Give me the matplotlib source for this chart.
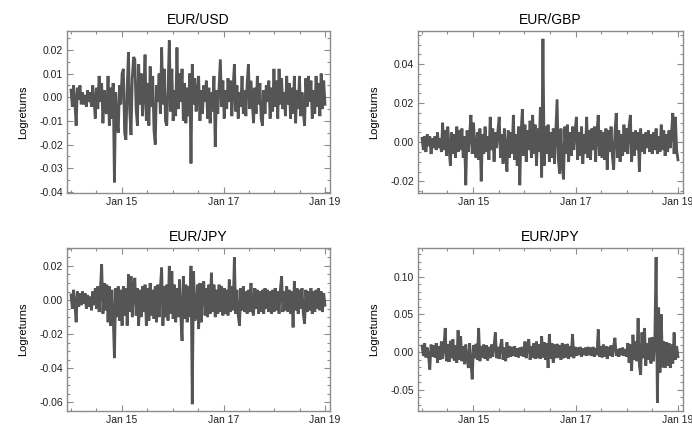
import matplotlib.pyplot as plt
import matplotlib.dates as mdates
import matplotlib.ticker as mticker
import numpy as np
import pandas as pd

plt.rcParams['font.family'] = ['Liberation Sans', 'DejaVu Sans']

# Logreturns (in thousandths), one value every ~9 days, Jan 2014 - Dec 2018
eur_usd = [
    3, -4, 5, -2, -12, 4, -1, 5, -3, 2,
    -3, 1, -4, 3, -2, 2, -4, 5, -1, -9,
    4, -5, 9, -2, 6, -11, 3, -6, -7, 9,
    -12, 4, -9, 6, -36, 2, -10, -15, 5, -3,
    10, 12, -15, -18, 4, 19, -6, -16, 8, 17,
    16, -5, -12, 14, -3, 10, -8, 2, 18, -10,
    6, -12, 13, -4, 9, -14, -20, 5, -2, 10,
    -7, 21, -3, 12, -10, -12, 4, 24, -6, 12,
    -10, 3, -8, 21, -5, 10, -2, 12, -10, 6,
    -11, 4, -8, 10, -28, 14, -3, 8, -6, 2,
    9, -10, 3, -7, 5, -2, 7, -9, 4, -11,
    2, -6, 9, -21, 3, -7, 5, 16, -4, 7,
    -9, 3, -5, 8, -2, 7, -8, 4, 14, -6,
    5, -9, 2, -4, 9, -7, 3, -8, 6, 14,
    -5, 7, -2, -11, 4, -7, 9, -3, 6, -9,
    -12, 3, -7, 5, -2, 7, -9, 4, -6, 12,
    -4, 7, -9, 12, -3, 8, -5, 2, -8, 9,
    -3, 6, -9, 4, -7, 9, -11, 3, -5, 9,
    -8, 2, -6, -12, 8, -4, 9, -2, 7, -9,
    3, -7, 9, -4, 6, -8, 10, -5, 7, -3,
]

eur_gbp = [
    2, -4, 3, -5, 4, -2, 3, -6, 2, -3,
    3, -4, 5, -3, 2, -5, 10, -4, 6, -7,
    8, -3, -12, 5, -6, 4, -8, 8, -5, 6,
    -4, 7, -8, 3, -22, 6, -5, 4, 14, -6,
    10, -3, -8, 5, -9, 7, -20, 4, -6, 8,
    -5, 3, -9, 13, -4, 7, -10, 5, -3, 6,
    13, -8, 4, -11, 7, -3, -15, 6, -8, 5,
    -6, 14, -9, 4, -12, 8, -22, 5, 17, -7,
    9, -10, 6, -4, 11, -8, 14, -6, 9, -12,
    7, -5, 18, -18, 53, -12, 8, -6, 9, -10,
    5, -8, 7, -11, 6, 22, -9, -16, 7, -12,
    -19, 8, -6, 9, -10, 5, -7, 8, -4, 6,
    13, -9, 5, -7, 8, -11, 4, -6, 13, -8,
    6, -9, 7, -4, 8, -10, 5, 14, -7, 6,
    -8, 5, -9, 7, -14, 6, -5, 8, -7, -14,
    5, 15, -8, 6, -10, 4, -7, 9, -5, 7,
    -6, 8, 14, -10, 5, -7, 6, -4, 5, -15,
    7, -5, 4, -6, 5, -3, 6, -5, 4, -6,
    5, -4, 7, -6, 3, -5, 9, -4, 6, -7,
    4, -5, 6, -3, 5, 15, -6, 13, -4, -9,
]

eur_jpy = [
    3, -5, 6, -2, -13, 5, -4, 4, -3, 5,
    -2, 4, -5, 3, -4, 2, -6, 5, -3, 7,
    -5, 8, -7, 6, 21, -8, 10, -6, 9, -13,
    8, -15, 6, -9, -34, 7, -10, 8, -12, 6,
    -15, 8, -9, 7, -15, 15, -7, 14, -10, 8,
    13, -9, 7, -15, 6, -10, 8, -7, 9, -15,
    7, -12, 10, -9, 6, -11, 8, -13, 9, -10,
    7, 19, -15, 8, -10, 9, -12, 20, -8, 17,
    -11, 9, -13, 7, -10, 12, -9, -24, 14, -11,
    9, -13, 8, -10, 20, -61, 17, -12, -9, 9,
    -17, 10, -13, 8, 11, -9, 7, -10, 9, -8,
    16, -7, 9, -10, 6, -8, 9, -7, 8, -9,
    7, -8, 6, -9, 12, -7, 8, -6, 25, -8,
    6, -9, -15, 7, -6, 8, -7, 5, -8, 6,
    -7, 10, -6, -9, 7, -5, 6, -8, 5, -7,
    6, -8, 7, -5, 6, -7, 5, -8, 6, -7,
    7, -6, 5, -8, 6, 14, -7, 5, -6, 8,
    -7, 6, -8, 5, -16, 11, -6, 7, -8, 6,
    -5, 7, -8, -14, 6, -7, 5, -6, 7, -8,
    5, -7, 6, -5, 7, -6, 5, -7, 4, -3,
]

eur_jpy_2 = [
    8, -5, 12, -7, 6, -4, -23, 10, -6, 9,
    -7, 12, -14, 8, -10, 14, -9, 7, 32, -12,
    10, -13, 15, -8, 17, -11, 9, -14, 29, -10,
    21, -12, 8, -16, 10, -9, -21, 12, -14, -36,
    9, -8, 11, -10, 32, -12, 8, -7, 10, -9,
    9, -11, 7, -8, 10, -6, 9, 26, -8, 7,
    -9, 8, 17, -10, 6, -12, 13, -7, 8, -6,
    7, -5, 8, -6, 5, -7, 6, -5, 7, -6,
    14, -8, 9, 17, -10, 8, -7, 12, -9, 14,
    -8, 10, -9, 21, -7, 13, -10, 12, -21, 24,
    -9, 12, -14, 10, -8, 11, -7, 9, -10, 12,
    -8, 10, -7, 11, -9, 8, -6, 24, -8, 7,
    -5, 6, -4, 7, -6, 5, -4, 6, -5, 7,
    -4, 6, -5, 7, -6, 5, -4, 30, -6, 8,
    -7, 10, -6, 8, -9, 7, -5, 9, -6, 8,
    19, -5, 4, -6, 5, -4, 6, -5, 4, -6,
    12, -14, 10, -25, 23, -10, 14, -12, 45, -18,
    -30, 26, -8, 32, -18, 12, -10, 19, -15, 20,
    -12, 15, 126, -67, 59, -27, 50, -20, 14, -21,
    13, -18, 12, -21, 10, -15, 26, -10, 8, -6,
]

titles = ['EUR/USD', 'EUR/GBP', 'EUR/JPY', 'EUR/JPY']
series = [eur_usd, eur_gbp, eur_jpy, eur_jpy_2]
y_limits = [(-0.0405, 0.028), (-0.026, 0.057), (-0.065, 0.0305), (-0.078, 0.138)]
y_major = [0.01, 0.02, 0.02, 0.05]
y_minor = [0.005, 0.005, 0.005, 0.01]
labelled_years = [2015, 2017, 2019]

dates = pd.date_range('2014-01-01', '2018-12-31', periods=len(eur_usd))

fig = plt.figure(figsize=(6.92, 4.32), dpi=100)

# [left, bottom, width, height] in figure fractions
positions = [
    [67 / 692, 239 / 432, 263 / 692, 162 / 432],
    [418 / 692, 239 / 432, 265 / 692, 162 / 432],
    [67 / 692, 21 / 432, 263 / 692, 163 / 432],
    [418 / 692, 21 / 432, 265 / 692, 163 / 432],
]

frame_col = '#8c8c8c'
year_ticks = [pd.Timestamp(year=y, month=1, day=1) for y in labelled_years]

for pos, title, vals, ylim, maj, mnr in zip(positions, titles, series, y_limits, y_major, y_minor):
    ax = fig.add_axes(pos)
    ax.plot(dates, np.array(vals) / 1000.0, color='#555555', lw=2.0, solid_joinstyle='miter')

    ax.set_xlim(pd.Timestamp('2013-12-03'), pd.Timestamp('2019-02-05'))
    ax.set_ylim(*ylim)

    ax.set_xticks(year_ticks)
    ax.xaxis.set_major_formatter(mdates.DateFormatter('Jan %y'))
    ax.xaxis.set_minor_locator(mdates.MonthLocator(bymonth=[1, 7]))
    ax.yaxis.set_major_locator(mticker.MultipleLocator(maj))
    ax.yaxis.set_minor_locator(mticker.MultipleLocator(mnr))
    ax.yaxis.set_major_formatter(mticker.FuncFormatter(lambda v, p: '%.2f' % v if abs(v) > 1e-9 else '0.00'))

    ax.tick_params(which='both', direction='in', top=True, right=True, color=frame_col,
                   labelsize=7.5, labelcolor='#222222', width=0.8)
    ax.tick_params(which='major', length=4, pad=3)
    ax.tick_params(which='minor', length=2)

    for sp in ax.spines.values():
        sp.set_color(frame_col)
        sp.set_linewidth(1.0)

    ax.set_title(title, fontsize=10, pad=5)
    ax.set_ylabel('Logreturns', fontsize=8, labelpad=8)

plt.savefig('out.png', dpi=100)
